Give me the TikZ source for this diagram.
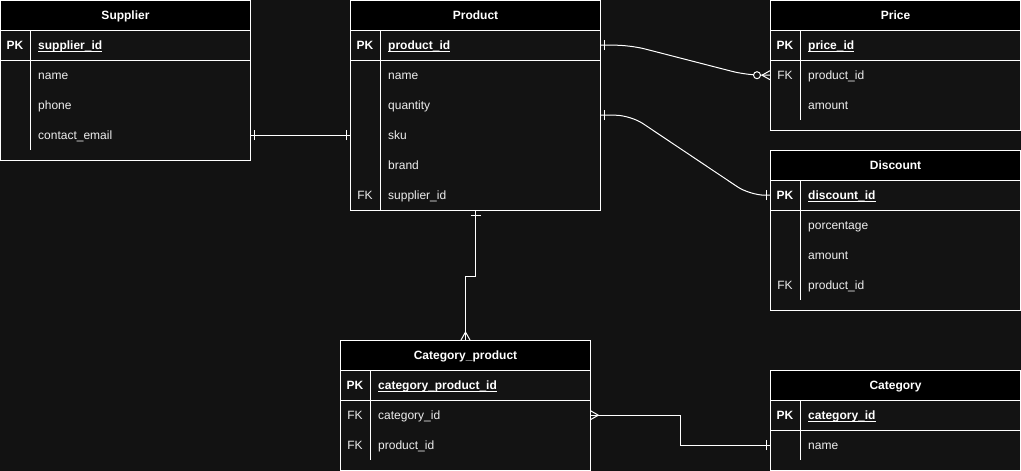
\documentclass[tikz,border=0pt]{standalone}
\usepackage{fontspec}
\setmainfont{Liberation Sans}
\usetikzlibrary{decorations.markings}
\definecolor{canvas}{RGB}{18,18,18}
\definecolor{body}{RGB}{19,19,19}
\definecolor{ink}{RGB}{238,238,238}
\newcommand{\tfont}{\fontsize{12pt}{14pt}\selectfont}
\newlength\pkw
\newcommand{\pkname}[1]{\settowidth{\pkw}{#1}\rlap{\rule[-2pt]{\pkw}{0.8pt}}#1}
\tikzset{
  one start/.style={postaction={decorate,decoration={markings,
    mark=at position 4pt with {\draw[white,line width=1pt] (0,-5pt) -- (0,5pt);}}}},
  one end/.style={postaction={decorate,decoration={markings,
    mark=at position -4pt with {\draw[white,line width=1pt] (0,-5pt) -- (0,5pt);}}}},
  many start/.style={postaction={decorate,decoration={markings,
    mark=at position 0pt with {\draw[white,line width=1pt] (8pt,0) -- (0,4.5pt) (8pt,0) -- (0,-4.5pt);}}}},
  many end/.style={postaction={decorate,decoration={markings,
    mark=at position -8pt with {\draw[white,line width=1pt] (0,0) -- (8pt,4.5pt) (0,0) -- (8pt,-4.5pt);}}}},
  zero many end/.style={postaction={decorate,decoration={markings,
    mark=at position -8pt with {\draw[white,line width=1pt] (0,0) -- (8pt,4.5pt) (0,0) -- (8pt,-4.5pt);},
    mark=at position -13pt with {\draw[white,line width=1pt,fill=canvas] (0,0) circle (3.5pt);}}}}
}
\begin{document}
\begin{tikzpicture}[x=1pt,y=-1pt]
\tikzstyle{table}=[draw=white,fill=body,line width=1pt,minimum width=250pt,inner sep=0pt,anchor=north west]
\tikzstyle{header}=[table,fill=black,minimum height=30pt,text height=11pt,text depth=2.4pt,text=white,font=\tfont\bfseries]
\tikzstyle{row}=[minimum width=250pt,minimum height=30pt,inner sep=0pt,anchor=north west]
\tikzstyle{key}=[inner sep=0pt,text height=11pt,text depth=2.4pt,text=ink,font=\tfont]
\tikzstyle{pkkey}=[key,text=white,font=\tfont\bfseries]
\tikzstyle{field}=[anchor=west,inner sep=0pt,text height=11pt,text depth=2.4pt,text=ink,font=\tfont]
\tikzstyle{pkfield}=[field,text=white,font=\tfont\bfseries]
\tikzstyle{rule}=[draw=white,line width=1pt]
\tikzstyle{link}=[draw=white,line width=1pt]
\useasboundingbox (0,0) rectangle (1021,471);
\fill[canvas] (0,0) rectangle (1021,471);

% Supplier
\node[table,minimum height=160pt] (supplier) at (0,0) {};
\node[header] (supplier-h) at (0,0) {Supplier};
\node[row] (supplier-0) at (0,30) {};
\node[pkkey] at ([xshift=15pt]supplier-0.west) {PK};
\node[pkfield] at ([xshift=38pt]supplier-0.west) {\pkname{supplier\_id}};
\foreach \k/\f [count=\i] in {/name,/phone,/contact\_email}{
  \node[row] (supplier-\i) at (0,30+30*\i) {};
  \node[key] at ([xshift=15pt]supplier-\i.west) {\k};
  \node[field] at ([xshift=38pt]supplier-\i.west) {\f};
}
\draw[rule] (supplier-0.south west) -- (supplier-0.south east);
\draw[rule] ([xshift=30pt]supplier-0.north west) -- ([xshift=30pt]supplier-3.south west);

% Product
\node[table,minimum height=210pt] (product) at (350,0) {};
\node[header] (product-h) at (350,0) {Product};
\node[row] (product-0) at (350,30) {};
\node[pkkey] at ([xshift=15pt]product-0.west) {PK};
\node[pkfield] at ([xshift=38pt]product-0.west) {\pkname{product\_id}};
\foreach \k/\f [count=\i] in {/name,/quantity,/sku,/brand,FK/supplier\_id}{
  \node[row] (product-\i) at (350,30+30*\i) {};
  \node[key] at ([xshift=15pt]product-\i.west) {\k};
  \node[field] at ([xshift=38pt]product-\i.west) {\f};
}
\draw[rule] (product-0.south west) -- (product-0.south east);
\draw[rule] ([xshift=30pt]product-0.north west) -- ([xshift=30pt]product-5.south west);

% Price
\node[table,minimum height=130pt] (price) at (770,0) {};
\node[header] (price-h) at (770,0) {Price};
\node[row] (price-0) at (770,30) {};
\node[pkkey] at ([xshift=15pt]price-0.west) {PK};
\node[pkfield] at ([xshift=38pt]price-0.west) {\pkname{price\_id}};
\foreach \k/\f [count=\i] in {FK/product\_id,/amount}{
  \node[row] (price-\i) at (770,30+30*\i) {};
  \node[key] at ([xshift=15pt]price-\i.west) {\k};
  \node[field] at ([xshift=38pt]price-\i.west) {\f};
}
\draw[rule] (price-0.south west) -- (price-0.south east);
\draw[rule] ([xshift=30pt]price-0.north west) -- ([xshift=30pt]price-2.south west);

% Discount
\node[table,minimum height=160pt] (discount) at (770,150) {};
\node[header] (discount-h) at (770,150) {Discount};
\node[row] (discount-0) at (770,180) {};
\node[pkkey] at ([xshift=15pt]discount-0.west) {PK};
\node[pkfield] at ([xshift=38pt]discount-0.west) {\pkname{discount\_id}};
\foreach \k/\f [count=\i] in {/porcentage,/amount,FK/product\_id}{
  \node[row] (discount-\i) at (770,180+30*\i) {};
  \node[key] at ([xshift=15pt]discount-\i.west) {\k};
  \node[field] at ([xshift=38pt]discount-\i.west) {\f};
}
\draw[rule] (discount-0.south west) -- (discount-0.south east);
\draw[rule] ([xshift=30pt]discount-0.north west) -- ([xshift=30pt]discount-3.south west);

% Category_product
\node[table,minimum height=130pt] (catprod) at (340,340) {};
\node[header] (catprod-h) at (340,340) {Category\_product};
\node[row] (catprod-0) at (340,370) {};
\node[pkkey] at ([xshift=15pt]catprod-0.west) {PK};
\node[pkfield] at ([xshift=38pt]catprod-0.west) {\pkname{category\_product\_id}};
\foreach \k/\f [count=\i] in {FK/category\_id,FK/product\_id}{
  \node[row] (catprod-\i) at (340,370+30*\i) {};
  \node[key] at ([xshift=15pt]catprod-\i.west) {\k};
  \node[field] at ([xshift=38pt]catprod-\i.west) {\f};
}
\draw[rule] (catprod-0.south west) -- (catprod-0.south east);
\draw[rule] ([xshift=30pt]catprod-0.north west) -- ([xshift=30pt]catprod-2.south west);

% Category
\node[table,minimum height=100pt] (category) at (770,370) {};
\node[header] (category-h) at (770,370) {Category};
\node[row] (category-0) at (770,400) {};
\node[pkkey] at ([xshift=15pt]category-0.west) {PK};
\node[pkfield] at ([xshift=38pt]category-0.west) {\pkname{category\_id}};
\foreach \k/\f [count=\i] in {/name}{
  \node[row] (category-\i) at (770,400+30*\i) {};
  \node[key] at ([xshift=15pt]category-\i.west) {\k};
  \node[field] at ([xshift=38pt]category-\i.west) {\f};
}
\draw[rule] (category-0.south west) -- (category-0.south east);
\draw[rule] ([xshift=30pt]category-0.north west) -- ([xshift=30pt]category-1.south west);

% relations
\draw[link,one start,one end] (supplier-3.east) -- (product-3.west);
\draw[link,rounded corners=15pt,one start,zero many end] (product-0.east)
  -- ([xshift=30pt]product-0.east) -- ([xshift=-23pt]price-1.west) -- (price-1.west);
\draw[link,rounded corners=15pt,one start,one end] ([yshift=-10pt]product-2.east)
  -- ([xshift=30pt,yshift=-10pt]product-2.east) -- ([xshift=-20pt]discount-0.west) -- (discount-0.west);
\draw[link,one start,many end] (product.south) -- ++(0,65) -| (catprod.north);
\draw[link,many start,one end] (catprod-1.east) -- ++(90,0) |- (category-1.west);
\end{tikzpicture}
\end{document}
